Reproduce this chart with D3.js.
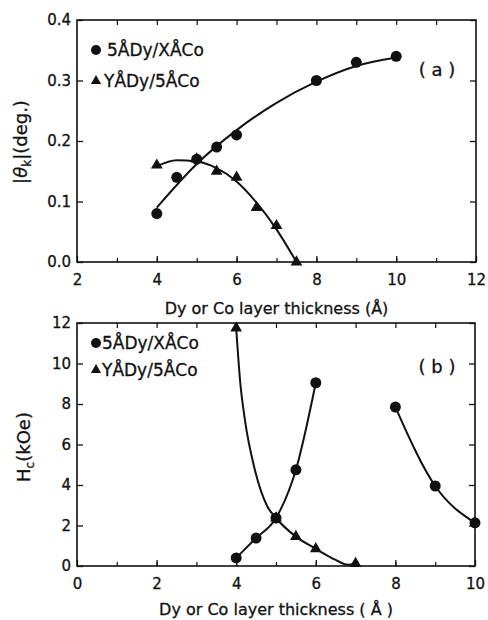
<!DOCTYPE html>
<html><head><meta charset="utf-8">
<script src="https://cdn.jsdelivr.net/npm/d3@7"></script>
<style>
html,body{margin:0;padding:0;background:#fff;}
svg text{font-family:"DejaVu Sans",sans-serif;fill:#111;stroke:#111;stroke-width:0.3px;}
</style></head>
<body><svg id="c" width="488" height="620"></svg>
<script>
// ---------- Data: panel (a) Kerr rotation ----------
const aCircleX = [4, 4.5, 5, 5.5, 6, 8, 9, 10];
const aCircleY = [0.08, 0.14, 0.17, 0.19, 0.21, 0.30, 0.33, 0.34];
const aTriX = [4, 5, 5.5, 6, 6.5, 7, 7.5];
const aTriY = [0.16, 0.17, 0.15, 0.14, 0.09, 0.06, 0.0];
// fitted curves
const aCircleFitX = [4, 5, 6, 7, 8, 9, 10];
const aCircleFitY = [0.09, 0.162, 0.218, 0.263, 0.298, 0.324, 0.338];
const aTriFitX = [4, 4.5, 5, 5.5, 6, 6.5, 7, 7.5];
const aTriFitY = [0.158, 0.168, 0.166, 0.155, 0.133, 0.098, 0.054, 0.0];

// ---------- Data: panel (b) coercivity ----------
const bCircleX = [4, 4.5, 5, 5.5, 6, 8, 9, 10];
const bCircleY = [0.4, 1.38, 2.37, 4.75, 9.05, 7.85, 3.95, 2.13];
const bTriX = [4, 5, 5.5, 6, 7];
const bTriY = [11.75, 2.37, 1.45, 0.85, 0.12];
const bCircleFit1X = [4, 4.5, 5, 5.5, 6];
const bCircleFit1Y = [0.4, 1.38, 2.37, 4.75, 9.05];
const bCircleFit2X = [8, 9, 10];
const bCircleFit2Y = [7.85, 3.95, 2.13];
const bTriFitX = [4, 4.1, 4.22, 4.47, 4.78, 5, 5.5, 6, 6.5, 6.8, 7];
const bTriFitY = [11.75, 9.1, 7.2, 4.74, 2.95, 2.37, 1.45, 0.85, 0.3, 0.06, 0.12];

// ---------- Tick labels ----------
const aXTicks = [2, 4, 6, 8, 10, 12];
const aYTicks = [0, 0.1, 0.2, 0.3, 0.4];
const bXTicks = [0, 2, 4, 6, 8, 10];
const bYTicks = [0, 2, 4, 6, 8, 10, 12];
const legendLabels = ["5ÅDy/XÅCo", "YÅDy/5ÅCo"];
const xTitleA = "Dy or Co layer thickness (Å)";
const xTitleB = "Dy or Co layer thickness ( Å )";

const svg = d3.select("#c");
const ink = "#111";

function panel(cfg){
  const {x, y, xTicks, yTicks, yFmt, xMinor} = cfg;
  const g = svg.append("g");
  const [x0,x1] = x.range(), [y0,y1] = y.range();
  g.append("rect").attr("x",x0).attr("y",y1).attr("width",x1-x0).attr("height",y0-y1)
    .attr("fill","none").attr("stroke",ink).attr("stroke-width",1.6);
  const bx = g.append("g").attr("transform",`translate(0,${y0})`)
    .call(d3.axisBottom(x).tickValues(xTicks).tickSize(-6).tickPadding(12).tickFormat(d3.format("d")));
  bx.select(".domain").remove();
  bx.selectAll("text").attr("font-size",15).attr("font-family","DejaVu Sans").attr("fill",ink);
  bx.selectAll("line").attr("stroke",ink).attr("stroke-width",1.3);
  const mb = g.append("g").attr("transform",`translate(0,${y0})`)
    .call(d3.axisBottom(x).tickValues(xMinor).tickSize(-4).tickFormat(""));
  mb.select(".domain").remove(); mb.selectAll("line").attr("stroke",ink).attr("stroke-width",1.2);
  const tp = g.append("g").attr("transform",`translate(0,${y1})`)
    .call(d3.axisTop(x).tickValues(xMinor).tickSize(-5).tickFormat(""));
  tp.select(".domain").remove(); tp.selectAll("line").attr("stroke",ink).attr("stroke-width",1.2);
  const ly = g.append("g").attr("transform",`translate(${x0},0)`)
    .call(d3.axisLeft(y).tickValues(yTicks).tickSize(-6).tickPadding(6).tickFormat(yFmt));
  ly.select(".domain").remove();
  ly.selectAll("text").attr("font-size",15).attr("font-family","DejaVu Sans").attr("fill",ink);
  ly.selectAll("line").attr("stroke",ink).attr("stroke-width",1.3);
  const ry = g.append("g").attr("transform",`translate(${x1},0)`)
    .call(d3.axisRight(y).tickValues(yTicks).tickSize(-6).tickFormat(""));
  ry.select(".domain").remove(); ry.selectAll("line").attr("stroke",ink).attr("stroke-width",1.3);
  return g;
}

function curve(g, x, y, xs, ys){
  const pts = xs.map((d,i)=>[d, ys[i]]);
  g.append("path").datum(pts)
    .attr("d", d3.line().x(d=>x(d[0])).y(d=>y(d[1])).curve(d3.curveMonotoneX))
    .attr("fill","none").attr("stroke",ink).attr("stroke-width",2);
}
function circles(g, x, y, xs, ys){
  g.selectAll(null).data(xs.map((d,i)=>[d,ys[i]])).enter().append("circle")
    .attr("cx",d=>x(d[0])).attr("cy",d=>y(d[1])).attr("r",5.5).attr("fill",ink);
}
const tri = d3.symbol().type(d3.symbolTriangle).size(60);
function triangles(g, x, y, xs, ys){
  g.selectAll(null).data(xs.map((d,i)=>[d,ys[i]])).enter().append("path")
    .attr("d",tri).attr("transform",d=>`translate(${x(d[0])},${y(d[1])})`).attr("fill",ink);
}

// ---------- Panel (a) ----------
const xA = d3.scaleLinear().domain([2,12]).range([77,476]);
const yA = d3.scaleLinear().domain([0,0.4]).range([262,20]);
const gA = panel({x:xA, y:yA, xTicks:aXTicks, yTicks:aYTicks, yFmt:d3.format(".1f"), xMinor:d3.range(3,12,1)});
curve(gA, xA, yA, aCircleFitX, aCircleFitY);
curve(gA, xA, yA, aTriFitX, aTriFitY);
circles(gA, xA, yA, aCircleX, aCircleY);
triangles(gA, xA, yA, aTriX, aTriY);
gA.append("circle").attr("cx",96).attr("cy",50).attr("r",5).attr("fill",ink);
gA.append("text").attr("x",107).attr("y",56).attr("font-size",17).text(legendLabels[0]);
gA.append("path").attr("d",d3.symbol().type(d3.symbolTriangle).size(45)).attr("transform","translate(96,81)").attr("fill",ink);
gA.append("text").attr("x",104).attr("y",87).attr("font-size",17).text(legendLabels[1]);
gA.append("text").attr("x",437).attr("y",76).attr("font-size",18).attr("text-anchor","middle").text("( a )");
gA.append("text").attr("x",(77+476)/2).attr("y",314).attr("font-size",16).attr("text-anchor","middle").text(xTitleA);
const yla = gA.append("text").attr("transform","translate(27,142) rotate(-90)").attr("text-anchor","middle").attr("font-size",18);
yla.append("tspan").text("|");
yla.append("tspan").attr("font-style","italic").text("θ");
yla.append("tspan").attr("font-size",12).attr("dy",4).text("k");
yla.append("tspan").attr("dy",-4).text("|(deg.)");

// ---------- Panel (b) ----------
const xB = d3.scaleLinear().domain([0,10]).range([77,475]);
const yB = d3.scaleLinear().domain([0,12]).range([566,323]);
const gB = panel({x:xB, y:yB, xTicks:bXTicks, yTicks:bYTicks, yFmt:d3.format("d"), xMinor:d3.range(1,10,1)});
curve(gB, xB, yB, bCircleFit1X, bCircleFit1Y);
curve(gB, xB, yB, bCircleFit2X, bCircleFit2Y);
curve(gB, xB, yB, bTriFitX, bTriFitY);
circles(gB, xB, yB, bCircleX, bCircleY);
triangles(gB, xB, yB, bTriX, bTriY);
gB.append("circle").attr("cx",96).attr("cy",343).attr("r",5).attr("fill",ink);
gB.append("text").attr("x",102).attr("y",349).attr("font-size",17).text(legendLabels[0]);
gB.append("path").attr("d",d3.symbol().type(d3.symbolTriangle).size(45)).attr("transform","translate(96,370)").attr("fill",ink);
gB.append("text").attr("x",102).attr("y",376).attr("font-size",17).text(legendLabels[1]);
gB.append("text").attr("x",437).attr("y",373).attr("font-size",18).attr("text-anchor","middle").text("( b )");
gB.append("text").attr("x",(77+475)/2).attr("y",615).attr("font-size",16).attr("text-anchor","middle").text(xTitleB);
const ylb = gB.append("text").attr("transform","translate(30,447) rotate(-90)").attr("text-anchor","middle").attr("font-size",18);
ylb.append("tspan").text("H");
ylb.append("tspan").attr("font-size",12).attr("dy",4).text("c");
ylb.append("tspan").attr("dy",-4).text("(kOe)");
</script></body></html>
